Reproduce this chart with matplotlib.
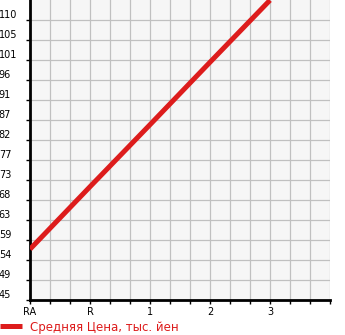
import matplotlib
matplotlib.use('Agg')
import matplotlib.pyplot as plt
import numpy as np

# chart data
x_labels = ['RA', 'R', '1', '2', '3']
y_labels = ['45', '49', '54', '59', '63', '68', '73', '77', '82', '87', '91', '96', '101', '105', '110']
price = [56.8, 71.3, 85.7, 100.2, 114.6]
series_name = 'Средняя Цена, тыс. йен'

red = '#dd1c1c'
y_step = (110 - 45) / 14

fig = plt.figure(figsize=(3.45, 3.35), dpi=100)
ax = fig.add_axes([30 / 345, 35 / 335, 300 / 345, 300 / 335])
ax.set_facecolor('#f6f6f6')

x = np.arange(len(price))
ax.plot(x, price, color=red, linewidth=3.6, solid_capstyle='butt', zorder=3, label=series_name)

ax.set_xlim(0, 5)
ax.set_ylim(45, 45 + 15 * y_step)

# grid: x every third of a unit, y every label
ax.set_xticks(np.arange(len(x_labels)))
ax.set_xticklabels(x_labels)
ax.set_xticks(np.arange(0, 5.01, 1 / 3), minor=True)
ax.set_yticks([45 + i * y_step for i in range(len(y_labels))])
ax.set_yticklabels(y_labels)
ax.grid(True, which='both', color='#c0c0c0', linewidth=0.9, zorder=0)
ax.set_axisbelow(True)

for s in ['top', 'right']:
    ax.spines[s].set_visible(False)
for s in ['left', 'bottom']:
    ax.spines[s].set_linewidth(2)
    ax.spines[s].set_color('black')

ax.tick_params(axis='x', which='both', length=3, width=1, pad=2, labelsize=7)
ax.tick_params(axis='y', length=3, width=1, pad=19.5, labelsize=7)
for lbl in ax.get_yticklabels():
    lbl.set_horizontalalignment('left')
    lbl.set_verticalalignment('bottom')

fig.legend(loc='center left', bbox_to_anchor=(0, 8 / 335), frameon=False,
           borderaxespad=0, borderpad=0, handlelength=1.9, handletextpad=0.65,
           fontsize=8.5, labelcolor=red)

fig.savefig('out.png', dpi=100)
